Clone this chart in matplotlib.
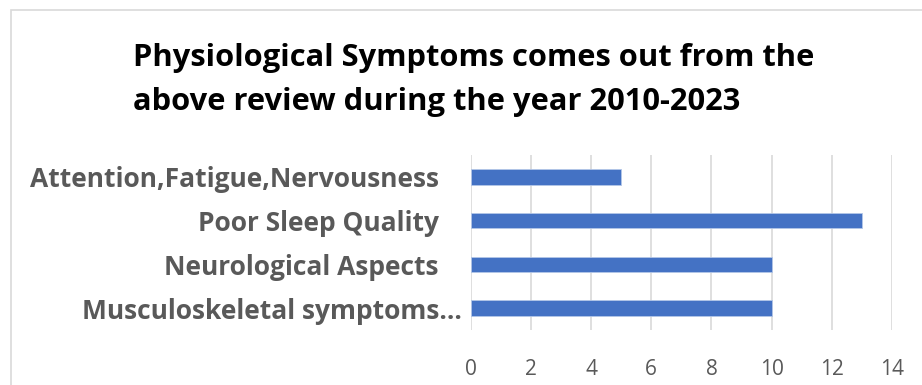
import matplotlib.pyplot as plt
from matplotlib.patches import Rectangle
import matplotlib.transforms as mtransforms

# ── 데이터 ─────────────────────────────
categories = ["Musculoskeletal symptoms…", "Neurological Aspects",
              "Poor Sleep Quality", "Attention,Fatigue,Nervousness"]
counts = [10, 10, 13, 5]
x_ticks = [0, 2, 4, 6, 8, 10, 12, 14]
title_lines = ["Physiological Symptoms comes out from the",
               "above review during the year 2010-2023"]

W, H = 922, 385
plt.rcParams["font.family"] = ["Open Sans", "DejaVu Sans"]

fig = plt.figure(figsize=(W / 100, H / 100), dpi=100)
fig.patch.set_facecolor("white")

# chart border (light gray)
fig.patches.append(Rectangle((11 / W, -0.05), 1.0, 1.05 - 10 / H,
                             transform=fig.transFigure, fill=False,
                             edgecolor="#d9d9d9", linewidth=1.2))

ax = fig.add_axes([470.7 / W, 55 / H, 421.3 / W, 175 / H])
ax.barh(range(len(categories)), counts, height=0.355, color="#4472C4",
        edgecolor="#b4c7e7", linewidth=0.6, zorder=3)

ax.set_xlim(0, 14)
ax.set_ylim(-0.5, len(categories) - 0.5)
ax.set_xticks(x_ticks)
ax.set_xticklabels([str(t) for t in x_ticks])
ax.set_yticks(range(len(categories)))
ax.set_yticklabels(categories)
ax.grid(axis="x", color="#d9d9d9", linewidth=1.2, zorder=0)
for s in ax.spines.values():
    s.set_visible(False)
ax.tick_params(axis="both", length=0)
ax.tick_params(axis="x", labelsize=15, labelcolor="#595959", pad=21)
ax.tick_params(axis="y", labelsize=19, labelcolor="#595959", pad=23)
for lab in ax.get_yticklabels():
    lab.set_fontweight("bold")

# 잘린 라벨(…)은 약간 오른쪽으로
ylabs = ax.get_yticklabels()
ylabs[0].set_transform(ylabs[0].get_transform() +
                       mtransforms.ScaledTranslation(23 / 100, 0, fig.dpi_scale_trans))

# ── 제목 ───────────────────────────────
for i, line in enumerate(title_lines):
    fig.text(133 / W, 1 - (66 + 44 * i) / H, line, ha="left", va="baseline",
             fontsize=22.2, fontweight="bold", color="black")

plt.savefig("out.png", dpi=100)
